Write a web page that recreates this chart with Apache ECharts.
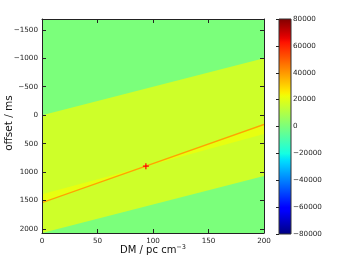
<!DOCTYPE html>
<html><head><meta charset="utf-8">
<script src="https://cdn.jsdelivr.net/npm/echarts@6/dist/echarts.min.js"></script>
<style>html,body{margin:0;padding:0;background:#fff}#c{width:347px;height:260px}</style>
</head><body><div id="c"></div>
<script>
// ---- data ----
const dmRange = [0, 200];                 // DM axis extent (pc cm^-3)
const offsetRange = [-1690, 2070];        // offset axis extent (ms)
const xTicks = [0, 50, 100, 150, 200];
const yTicks = [-1500, -1000, -500, 0, 500, 1000, 1500, 2000];
const cbRange = [-80000, 80000];
// offsets at DM = 0 and DM = 200 of the boundary lines
const bandUpper = [0, -1000];             // green / yellow edge (top)
const bandLower = [2070, 1070];           // yellow / green edge (bottom)
const ridgeLine = [1537, 163];            // bright ridge through the peak
const fanEdge = [1390, 332];              // second edge of the lighter fan
const peakDM = [93.6];
const peakOffset = [895];
// field levels
const levelBackground = 0;
const levelBand = 16000;
const levelFan = 21000;
const levelRidge = 38000;

// ---- jet colormap (style) ----
function jetChannel(x, pts){for(let i=1;i<pts.length;i++){if(x<=pts[i][0]){const a=pts[i-1],b=pts[i];return a[1]+(b[1]-a[1])*(x-a[0])/(b[0]-a[0]);}}return pts[pts.length-1][1];}
const R=[[0,0],[0.35,0],[0.66,1],[0.89,1],[1,0.5]];
const G=[[0,0],[0.125,0],[0.375,1],[0.64,1],[0.91,0],[1,0]];
const B=[[0,0.5],[0.11,1],[0.34,1],[0.65,0],[1,0]];
function jet(x){const c=[R,G,B].map(p=>Math.round(255*jetChannel(x,p)));return 'rgb('+c.join(',')+')';}
const jetStops=[];for(let i=0;i<=64;i++){jetStops.push(jet(i/64));}

// ---- polygons built from the arrays ----
const polys = [
  {pts:[[dmRange[0],offsetRange[0]],[dmRange[1],offsetRange[0]],[dmRange[1],offsetRange[1]],[dmRange[0],offsetRange[1]]], v:levelBackground},
  {pts:[[dmRange[0],bandUpper[0]],[dmRange[1],bandUpper[1]],[dmRange[1],bandLower[1]],[dmRange[0],bandLower[0]]], v:levelBand},
  {pts:[[dmRange[0],fanEdge[0]],[dmRange[0],ridgeLine[0]],[peakDM[0],peakOffset[0]]], v:levelFan},
  {pts:[[dmRange[1],ridgeLine[1]],[dmRange[1],fanEdge[1]],[peakDM[0],peakOffset[0]]], v:levelFan}
];
const ridgePts=[[dmRange[0],ridgeLine[0]],[dmRange[1],ridgeLine[1]]];

const minus = v => String(v).replace('-', '\u2212');
const axisCol = '#222';
const fs = 7.2;

const chart = echarts.init(document.getElementById('c'), null, {renderer:'canvas'});
chart.setOption({
  animation:false,
  backgroundColor:'#fff',
  textStyle:{fontFamily:'DejaVu Sans'},
  grid:[
    {left:42, top:19, width:222, height:214, show:false},
    {left:279, top:19, width:12, height:215, show:false}
  ],
  visualMap:[{type:'continuous', show:false, min:cbRange[0], max:cbRange[1], dimension:1, seriesIndex:[0,1], inRange:{color:jetStops}}],
  xAxis:[
    {gridIndex:0, type:'value', min:dmRange[0], max:dmRange[1], position:'bottom', z:10,
     axisLine:{show:true, onZero:false, lineStyle:{color:axisCol,width:1}},
     axisTick:{show:true, inside:true, length:4, customValues:xTicks, lineStyle:{color:axisCol}},
     axisLabel:{show:true, customValues:xTicks, fontSize:fs, color:axisCol, margin:5, fontFamily:'DejaVu Sans'},
     splitLine:{show:false}},
    {gridIndex:0, type:'value', min:dmRange[0], max:dmRange[1], position:'top', z:10,
     axisLine:{show:true, onZero:false, lineStyle:{color:axisCol,width:1}},
     axisTick:{show:true, inside:true, length:4, customValues:xTicks, lineStyle:{color:axisCol}},
     axisLabel:{show:false}, splitLine:{show:false}},
    {gridIndex:1, type:'value', min:0, max:1, show:false}
  ],
  yAxis:[
    {gridIndex:0, type:'value', inverse:true, min:offsetRange[0], max:offsetRange[1], position:'left', z:10,
     axisLine:{show:true, onZero:false, lineStyle:{color:axisCol,width:1}},
     axisTick:{show:true, inside:true, length:4, customValues:yTicks, lineStyle:{color:axisCol}},
     axisLabel:{show:true, customValues:yTicks, fontSize:fs, color:axisCol, margin:4, formatter:minus, fontFamily:'DejaVu Sans'},
     splitLine:{show:false}},
    {gridIndex:0, type:'value', inverse:true, min:offsetRange[0], max:offsetRange[1], position:'right', z:10,
     axisLine:{show:true, onZero:false, lineStyle:{color:axisCol,width:1}},
     axisTick:{show:true, inside:true, length:4, customValues:yTicks, lineStyle:{color:axisCol}},
     axisLabel:{show:false}, splitLine:{show:false}},
    {gridIndex:1, type:'value', min:cbRange[0], max:cbRange[1], interval:20000, position:'right', z:10,
     axisLine:{show:false},
     axisTick:{show:true, inside:true, length:3, lineStyle:{color:axisCol}},
     axisLabel:{show:true, fontSize:fs, color:axisCol, margin:2, formatter:minus, fontFamily:'DejaVu Sans'},
     splitLine:{show:false}}
  ],
  series:[
    {type:'custom', xAxisIndex:0, yAxisIndex:0, z:1, clip:true,
     data:polys.map((p,i)=>[i,p.v]),
     encode:{x:-1,y:-1},
     renderItem:function(params, api){
       const p = polys[api.value(0)];
       return {type:'polygon', shape:{points:p.pts.map(q=>api.coord(q))}, style:{fill:api.visual('color'), stroke:null}};
     }},
    {type:'custom', xAxisIndex:0, yAxisIndex:0, z:2, clip:true,
     data:[[0, levelRidge]], encode:{x:-1,y:-1},
     renderItem:function(params, api){
       return {type:'polyline', shape:{points:ridgePts.map(q=>api.coord(q))}, style:{stroke:api.visual('color'), lineWidth:1.3, fill:null}};
     }},
    {type:'custom', xAxisIndex:0, yAxisIndex:0, z:3,
     data:[[peakDM[0], peakOffset[0]]],
     renderItem:function(params, api){
       const c = api.coord([api.value(0), api.value(1)]);
       const h = 3;
       return {type:'group', children:[
         {type:'line', shape:{x1:c[0]-h,y1:c[1],x2:c[0]+h,y2:c[1]}, style:{stroke:'#ff0000', lineWidth:1.2}},
         {type:'line', shape:{x1:c[0],y1:c[1]-h,x2:c[0],y2:c[1]+h}, style:{stroke:'#ff0000', lineWidth:1.2}}
       ]};
     }},
    {type:'custom', xAxisIndex:2, yAxisIndex:2, z:1,
     data:[[0, cbRange[0], cbRange[1]]],
     renderItem:function(params, api){
       const a = api.coord([0, api.value(2)]);
       const b = api.coord([1, api.value(1)]);
       const stops = jetStops.map((c,i)=>({offset:i/(jetStops.length-1), color:c}));
       return {type:'rect', shape:{x:a[0], y:a[1], width:b[0]-a[0], height:b[1]-a[1]},
         style:{fill:new echarts.graphic.LinearGradient(0,1,0,0,stops), stroke:'#333', lineWidth:1}};
     }}
  ],
  graphic:[
    {type:'text', x:153, y:250, style:{
      text:'{a|DM / pc cm}{b|\u22123}', align:'center', verticalAlign:'middle',
      rich:{a:{fontSize:10, fontFamily:'DejaVu Sans', fill:'#111'}, b:{fontSize:6.5, fontFamily:'DejaVu Sans', fill:'#111', verticalAlign:'top', padding:[0,0,6,0]}}}},
    {type:'text', x:9, y:123, rotation:Math.PI/2, style:{
      text:'offset / ms', align:'center', verticalAlign:'middle', fontSize:10.5, fontFamily:'DejaVu Sans', fill:'#111'}}
  ]
});
</script></body></html>
